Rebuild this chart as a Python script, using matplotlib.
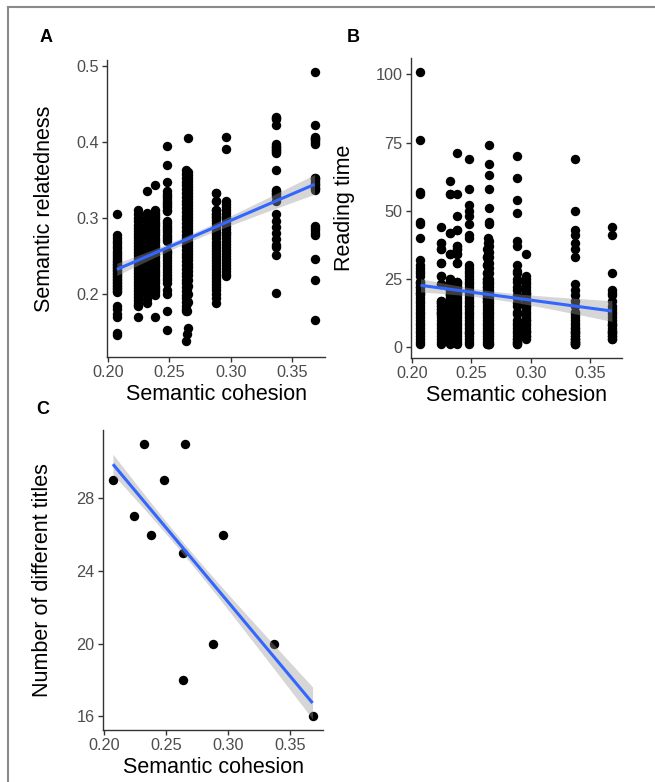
import numpy as np
import matplotlib
matplotlib.use("Agg")
import matplotlib.pyplot as plt
from matplotlib.lines import Line2D

plt.rcParams['font.family'] = ['Liberation Sans', 'DejaVu Sans']

# semantic cohesion of each group (12 groups)
cohesion = [0.207, 0.224, 0.232, 0.238, 0.248, 0.265, 0.264, 0.2635,
            0.288, 0.296, 0.337, 0.3685]

# number of different titles per group (panel C)
titles = [29, 27, 31, 26, 29, 31, 25, 18, 20, 26, 20, 16]

# semantic relatedness of each item, one list per group (panel A)
relatedness = [
    [0.305, 0.277, 0.274, 0.270, 0.267, 0.263, 0.260, 0.257, 0.254, 0.251, 0.248,
     0.246, 0.244, 0.242, 0.240, 0.238, 0.236, 0.234, 0.232, 0.230, 0.228, 0.226,
     0.224, 0.222, 0.220, 0.218, 0.216, 0.214, 0.212, 0.210, 0.208, 0.206, 0.204,
     0.203, 0.184, 0.180, 0.173, 0.170, 0.148, 0.146],
    [0.311, 0.305, 0.300, 0.296, 0.291, 0.287, 0.283, 0.279, 0.275, 0.271, 0.267,
     0.263, 0.259, 0.255, 0.251, 0.247, 0.243, 0.240, 0.236, 0.232, 0.228, 0.224,
     0.220, 0.216, 0.212, 0.208, 0.204, 0.200, 0.196, 0.192, 0.188, 0.185, 0.184,
     0.170],
    [0.336, 0.307, 0.304, 0.301, 0.298, 0.295, 0.292, 0.289, 0.286, 0.283, 0.280,
     0.277, 0.274, 0.271, 0.268, 0.265, 0.262, 0.259, 0.256, 0.253, 0.250, 0.247,
     0.244, 0.241, 0.238, 0.235, 0.232, 0.229, 0.226, 0.223, 0.220, 0.217, 0.214,
     0.211, 0.208, 0.205, 0.202, 0.198, 0.193, 0.188],
    [0.344, 0.310, 0.307, 0.304, 0.301, 0.298, 0.295, 0.292, 0.289, 0.286, 0.283,
     0.280, 0.277, 0.274, 0.271, 0.268, 0.265, 0.262, 0.259, 0.256, 0.253, 0.250,
     0.247, 0.244, 0.241, 0.238, 0.235, 0.232, 0.229, 0.226, 0.223, 0.220, 0.217,
     0.214, 0.211, 0.208, 0.205, 0.202, 0.199, 0.170],
    [0.395, 0.370, 0.348, 0.335, 0.332, 0.329, 0.326, 0.323, 0.320, 0.317, 0.314,
     0.311, 0.309, 0.296, 0.293, 0.290, 0.287, 0.284, 0.281, 0.278, 0.275, 0.272,
     0.270, 0.257, 0.253, 0.249, 0.245, 0.241, 0.237, 0.233, 0.229, 0.225, 0.221,
     0.218, 0.214, 0.205, 0.200, 0.177, 0.152, 0.255],
    [0.405, 0.361, 0.357, 0.353, 0.349, 0.345, 0.341, 0.337, 0.333, 0.329, 0.325,
     0.321, 0.317, 0.313, 0.309, 0.305, 0.301, 0.297, 0.293, 0.289, 0.285, 0.281,
     0.277, 0.273, 0.269, 0.265, 0.261, 0.257, 0.253, 0.249, 0.245, 0.240, 0.235,
     0.230, 0.225, 0.218, 0.210, 0.200, 0.190, 0.155],
    [0.359, 0.355, 0.351, 0.347, 0.343, 0.339, 0.335, 0.331, 0.327, 0.323, 0.319,
     0.315, 0.311, 0.307, 0.303, 0.299, 0.295, 0.291, 0.287, 0.283, 0.279, 0.275,
     0.271, 0.267, 0.263, 0.259, 0.255, 0.251, 0.247, 0.243, 0.238, 0.233, 0.228,
     0.222, 0.215, 0.207, 0.198, 0.188, 0.177, 0.147],
    [0.363, 0.358, 0.353, 0.348, 0.343, 0.338, 0.333, 0.328, 0.323, 0.318, 0.313,
     0.308, 0.303, 0.298, 0.293, 0.288, 0.283, 0.278, 0.273, 0.268, 0.263, 0.258,
     0.253, 0.248, 0.243, 0.238, 0.233, 0.228, 0.223, 0.218, 0.214, 0.209, 0.204,
     0.199, 0.194, 0.189, 0.184, 0.180, 0.178, 0.138],
    [0.333, 0.322, 0.311, 0.305, 0.301, 0.297, 0.293, 0.289, 0.285, 0.281, 0.277,
     0.273, 0.269, 0.265, 0.261, 0.257, 0.253, 0.249, 0.245, 0.241, 0.237, 0.233,
     0.229, 0.225, 0.221, 0.217, 0.213, 0.209, 0.205, 0.200, 0.194, 0.188, 0.333,
     0.322, 0.311, 0.305, 0.301],
    [0.407, 0.391, 0.322, 0.318, 0.314, 0.310, 0.306, 0.302, 0.298, 0.294, 0.290,
     0.286, 0.282, 0.278, 0.274, 0.270, 0.266, 0.262, 0.258, 0.254, 0.250, 0.246,
     0.242, 0.238, 0.234, 0.230, 0.226, 0.223, 0.300, 0.280],
    [0.433, 0.430, 0.422, 0.397, 0.394, 0.392, 0.389, 0.386, 0.363, 0.337, 0.333,
     0.329, 0.322, 0.305, 0.296, 0.288, 0.280, 0.272, 0.265, 0.262, 0.251, 0.201,
     0.431, 0.395, 0.390, 0.387, 0.335, 0.331],
    [0.492, 0.422, 0.407, 0.405, 0.402, 0.398, 0.353, 0.350, 0.345, 0.340, 0.337,
     0.290, 0.287, 0.284, 0.280, 0.277, 0.246, 0.219, 0.166, 0.404, 0.400, 0.352,
     0.348, 0.343, 0.339],
]

# reading time of each item, one list per group (panel B)
reading_time = [
    [101, 76, 57, 56, 46, 45, 40, 32, 29, 27, 24, 23, 22, 21, 20, 19, 18, 17, 16, 15,
     14, 13, 12, 11, 10, 9, 8, 7, 6, 5, 4, 3, 2, 1, 30, 28, 26, 24, 22, 20],
    [44, 38, 36, 31, 26, 23, 17, 16, 15, 14, 13, 12, 11, 10, 9, 8, 7, 6, 5, 4, 3, 2, 1,
     38, 36, 31, 26, 23, 17, 16, 15, 14, 13, 12],
    [61, 56, 42, 34, 25, 24, 23, 22, 21, 20, 19, 18, 17, 16, 15, 14, 13, 12, 11, 10,
     9, 8, 7, 6, 5, 4, 3, 2, 1, 56, 42, 34, 25, 24, 23, 22, 21, 20, 19, 18],
    [71, 56, 48, 43, 37, 36, 34, 31, 24, 23, 22, 21, 20, 19, 18, 17, 16, 15, 14, 13,
     12, 11, 10, 9, 8, 7, 6, 5, 4, 3, 2, 1, 43, 37, 36, 34, 31, 24, 22, 20],
    [69, 58, 52, 50, 48, 45, 41, 40, 30, 29, 28, 27, 26, 25, 24, 23, 22, 21, 20, 19,
     18, 17, 16, 15, 14, 13, 12, 11, 10, 9, 8, 7, 6, 5, 4, 3, 2, 1, 15, 5],
    [74, 67, 63, 58, 51, 46, 45, 39, 37, 35, 33, 31, 29, 27, 25, 23, 21, 19, 17, 15,
     13, 11, 9, 7, 5, 3, 1, 24, 22, 20, 18, 16, 14, 12, 10, 8, 6, 4, 2, 1],
    [40, 38, 36, 34, 32, 30, 28, 26, 24, 22, 20, 18, 16, 14, 12, 10, 8, 6, 4, 2,
     23, 21, 19, 17, 15, 13, 11, 9, 7, 5, 3, 1, 20, 16, 12, 9, 6, 4, 2, 1],
    [36, 33, 30, 27, 25, 24, 22, 21, 20, 19, 18, 17, 16, 15, 14, 13, 12, 11, 10, 9,
     8, 7, 6, 5, 4, 3, 2, 1, 33, 30, 27, 25, 24, 23, 22, 21, 20, 19, 18, 17],
    [70, 62, 54, 49, 39, 37, 30, 28, 27, 25, 24, 22, 21, 19, 18, 16, 15, 13, 12, 10,
     9, 7, 6, 4, 3, 2, 1, 3, 1, 8, 5, 2],
    [34, 26, 25, 24, 23, 22, 21, 20, 19, 18, 17, 16, 15, 14, 13, 12, 11, 10, 9, 8,
     7, 6, 5, 4, 3, 20, 15, 10, 6, 4],
    [69, 50, 43, 41, 38, 36, 33, 23, 21, 19, 17, 15, 13, 11, 9, 7, 5, 3, 1, 10, 6, 2,
     8, 4, 2, 1, 12, 6, 3, 5, 3, 2, 1, 4, 7],
    [44, 41, 27, 21, 19, 17, 15, 13, 12, 11, 9, 7, 6, 4, 3, 20, 14, 8, 5, 10, 8, 6, 5,
     4, 3],
]


def expand(groups):
    xs, ys = [], []
    for cx, vals in zip(cohesion, groups):
        xs += [cx] * len(vals)
        ys += list(vals)
    return np.array(xs), np.array(ys, dtype=float)


def lm_smooth(ax, x, y):
    # linear fit with 95% confidence band, like geom_smooth(method = "lm")
    n = len(x)
    b, a = np.polyfit(x, y, 1)
    resid = y - (a + b * x)
    s = np.sqrt(np.sum(resid ** 2) / (n - 2))
    sxx = np.sum((x - x.mean()) ** 2)
    xx = np.linspace(x.min(), x.max(), 80)
    yy = a + b * xx
    se = s * np.sqrt(1.0 / n + (xx - x.mean()) ** 2 / sxx)
    ax.fill_between(xx, yy - 1.97 * se, yy + 1.97 * se, color='#999999', alpha=0.4,
                    lw=0, zorder=3)
    ax.plot(xx, yy, color='#3366FF', lw=2.2, zorder=4, solid_capstyle='butt')


def style(ax):
    for sp in ['top', 'right']:
        ax.spines[sp].set_visible(False)
    for sp in ['left', 'bottom']:
        ax.spines[sp].set_color('#333333')
        ax.spines[sp].set_linewidth(1.0)
    ax.tick_params(length=3.5, width=1.0, color='#333333', labelcolor='#4D4D4D',
                   labelsize=11.7, pad=2.5)
    ax.set_xlim(0.199, 0.377)
    ax.set_xticks([0.20, 0.25, 0.30, 0.35])
    ax.set_xticklabels(['0.20', '0.25', '0.30', '0.35'])
    ax.set_xlabel('Semantic cohesion', fontsize=15.5, labelpad=3)


fig = plt.figure(figsize=(6.55, 7.82), dpi=100)

axA = fig.add_axes([0.1634, 0.5435, 0.3328, 0.3798])
axB = fig.add_axes([0.6275, 0.5422, 0.3221, 0.3836])
axC = fig.add_axes([0.1573, 0.0665, 0.3359, 0.3836])

# A
xa, ya = expand(relatedness)
axA.scatter(xa, ya, s=46, color='black', lw=0, zorder=2)
lm_smooth(axA, xa, ya)
style(axA)
axA.set_ylim(0.117, 0.508)
axA.set_yticks([0.2, 0.3, 0.4, 0.5])
axA.set_yticklabels(['0.2', '0.3', '0.4', '0.5'])
axA.set_ylabel('Semantic relatedness', fontsize=15.5)
axA.yaxis.set_label_coords(-0.24, 0.5)

# B
xb, yb = expand(reading_time)
axB.scatter(xb, yb, s=46, color='black', lw=0, zorder=2)
lm_smooth(axB, xb, yb)
style(axB)
axB.set_ylim(-4, 106)
axB.set_yticks([0, 25, 50, 75, 100])
axB.set_ylabel('Reading time', fontsize=15.5)
axB.yaxis.set_label_coords(-0.265, 0.5)

# C: one row per item, so the fit is weighted by group size
counts = [len(v) for v in relatedness]
xc = np.repeat(cohesion, counts)
yc = np.repeat(titles, counts).astype(float)
axC.scatter(cohesion, titles, s=46, color='black', lw=0, zorder=2)
lm_smooth(axC, xc, yc)
style(axC)
axC.set_ylim(15.25, 31.75)
axC.set_yticks([16, 20, 24, 28])
axC.set_ylabel('Number of different titles', fontsize=15.5)
axC.yaxis.set_label_coords(-0.227, 0.5)

# panel letters
fig.text(46 / 655, 1 - 37 / 782, 'A', fontsize=13, fontweight='bold', ha='center', va='center')
fig.text(353 / 655, 1 - 37 / 782, 'B', fontsize=13, fontweight='bold', ha='center', va='center')
fig.text(43 / 655, 1 - 410 / 782, 'C', fontsize=13, fontweight='bold', ha='center', va='center')

# frame of the figure (top and left edges)
fig.add_artist(Line2D([8 / 655, 1], [1 - 7 / 782, 1 - 7 / 782], color='#8a8a8a', lw=1.5))
fig.add_artist(Line2D([8 / 655, 8 / 655], [0, 1 - 7 / 782], color='#8a8a8a', lw=1.5))

fig.savefig('out.png', dpi=100)
